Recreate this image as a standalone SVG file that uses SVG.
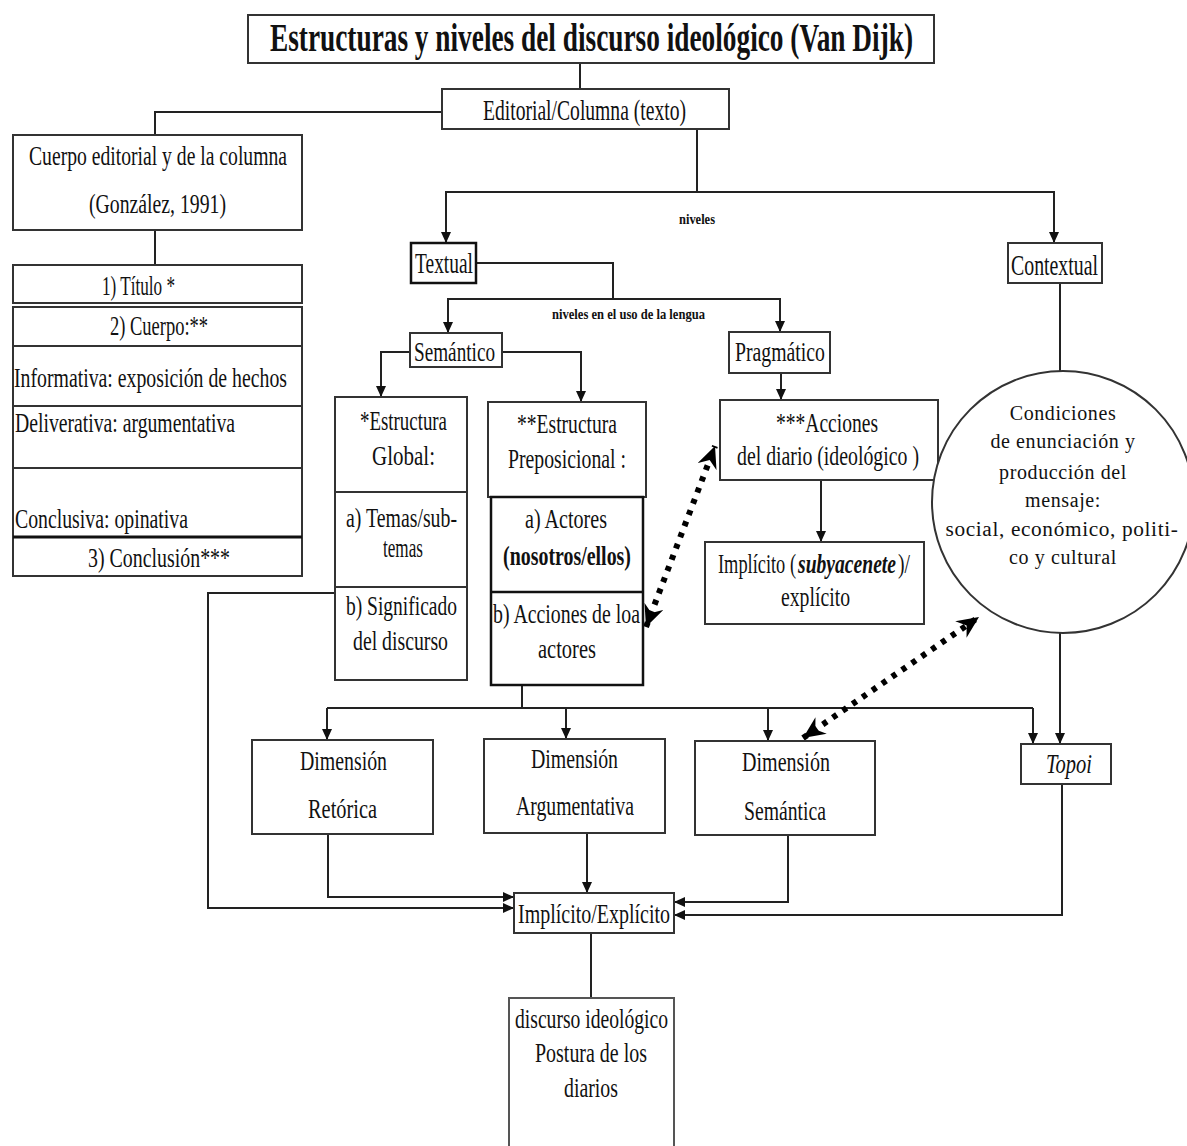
<svg xmlns="http://www.w3.org/2000/svg" width="1187" height="1146" viewBox="0 0 1187 1146">
<style>
.bx{fill:#fff;stroke:#333;stroke-width:2}
.dv{stroke:#333;stroke-width:2;fill:none}
.t{font-family:"Liberation Serif","Times New Roman",serif;font-size:27px;fill:#111}
.s{font-family:"Liberation Serif","Times New Roman",serif;font-size:15px;font-weight:bold;fill:#111}
.c{font-family:"Liberation Serif","Times New Roman",serif;font-size:20px;fill:#111;text-anchor:middle;letter-spacing:0.6px}
.ln{stroke:#222;stroke-width:2;fill:none}
.ar{marker-end:url(#ah)}
.dot{stroke:#000;stroke-width:6;stroke-dasharray:5 7;fill:none;marker-start:url(#bh);marker-end:url(#bh)}
</style>
<defs>
<marker id="ah" markerUnits="userSpaceOnUse" markerWidth="12" markerHeight="10" refX="11" refY="5" orient="auto"><path d="M0,0 L11,5 L0,10 z" fill="#111"/></marker>
<marker id="bh" markerUnits="userSpaceOnUse" markerWidth="24" markerHeight="20" refX="22" refY="10" orient="auto-start-reverse"><path d="M0,0 L22,10 L0,20 L7,10 z" fill="#000"/></marker>
</defs>
<rect width="1187" height="1146" fill="#fff"/>

<g id="connectors">
<path class="ln" d="M580,63 V89"/>
<path class="ln" d="M442,112 H155 V135"/>
<path class="ln" d="M155,213 V265"/>
<path class="ln ar" d="M697,129 V192 H446 V243"/>
<path class="ln ar" d="M697,192 H1054 V243"/>
<path class="ln" d="M476,263 H613 V299"/>
<path class="ln ar" d="M613,299 H448 V333"/>
<path class="ln ar" d="M613,299 H780 V332"/>
<path class="ln ar" d="M410,352 H381 V397"/>
<path class="ln ar" d="M502,352 H581 V402"/>
<path class="ln ar" d="M781,373 V400"/>
<path class="ln ar" d="M821,480 V542"/>
<path class="ln" d="M1060,283 V372"/>
<path class="ln ar" d="M1060,632 V744"/>
<path class="ln" d="M522,685 V708"/>
<path class="ln" d="M327,708 H1033"/>
<path class="ln ar" d="M327,708 V740"/>
<path class="ln ar" d="M566,708 V739"/>
<path class="ln ar" d="M768,708 V741"/>
<path class="ln ar" d="M1033,708 V744"/>
<path class="ln ar" d="M335,593 H208 V908 H514"/>
<path class="ln ar" d="M328,834 V897 H514"/>
<path class="ln ar" d="M587,833 V893"/>
<path class="ln ar" d="M788,835 V902 H674"/>
<path class="ln ar" d="M1062,784 V915 H674"/>
<path class="ln" d="M591,933 V998"/>
<path class="dot" d="M646,627 L715,446"/>
<path class="dot" d="M803,738 L979,617"/>
<text class="s" x="679" y="224" textLength="36" lengthAdjust="spacingAndGlyphs">niveles</text>
<text class="s" x="552" y="319" textLength="153" lengthAdjust="spacingAndGlyphs">niveles en el uso de la lengua</text>
</g>

<g id="title">
<rect class="bx" x="248" y="15" width="686" height="48"/>
<text class="t" x="270" y="51" style="font-size:40px;font-weight:bold" textLength="643" lengthAdjust="spacingAndGlyphs">Estructuras y niveles del discurso ideológico (Van Dijk)</text>
</g>

<g id="editorial">
<rect class="bx" x="442" y="89" width="287" height="40"/>
<text class="t" x="483" y="120" style="font-size:30px" textLength="203" lengthAdjust="spacingAndGlyphs">Editorial/Columna (texto)</text>
</g>

<g id="cuerpo-editorial">
<rect class="bx" x="13" y="135" width="289" height="95"/>
<text class="t" x="29" y="165" textLength="258" lengthAdjust="spacingAndGlyphs">Cuerpo editorial y de la columna</text>
<text class="t" x="89" y="213" textLength="137" lengthAdjust="spacingAndGlyphs">(González, 1991)</text>
</g>

<g id="titulo">
<rect class="bx" x="13" y="265" width="289" height="38"/>
<text class="t" x="102" y="295" textLength="73" lengthAdjust="spacingAndGlyphs">1) Título *</text>
</g>

<g id="cuerpo">
<rect class="bx" x="13" y="307" width="289" height="269"/>
<path class="dv" d="M13,346 H302 M13,406 H302 M13,468 H302"/>
<path class="dv" d="M13,537 H302" style="stroke-width:3;stroke:#111"/>
<text class="t" x="110" y="335" textLength="98" lengthAdjust="spacingAndGlyphs">2) Cuerpo:**</text>
<text class="t" x="14" y="387" textLength="273" lengthAdjust="spacingAndGlyphs">Informativa: exposición de hechos</text>
<text class="t" x="15" y="432" textLength="220" lengthAdjust="spacingAndGlyphs">Deliverativa: argumentativa</text>
<text class="t" x="15" y="528" textLength="173" lengthAdjust="spacingAndGlyphs">Conclusiva: opinativa</text>
<text class="t" x="88" y="567" textLength="142" lengthAdjust="spacingAndGlyphs">3) Conclusión***</text>
</g>

<g id="textual">
<rect class="bx" x="411" y="243" width="65" height="40" style="stroke:#111;stroke-width:2.5"/>
<text class="t" x="415" y="273" style="font-size:29px" textLength="58" lengthAdjust="spacingAndGlyphs">Textual</text>
</g>

<g id="contextual">
<rect class="bx" x="1008" y="243" width="94" height="40"/>
<text class="t" x="1011" y="275" style="font-size:29px" textLength="87" lengthAdjust="spacingAndGlyphs">Contextual</text>
</g>

<g id="semantico">
<rect class="bx" x="410" y="333" width="92" height="34"/>
<text class="t" x="414" y="361" textLength="81" lengthAdjust="spacingAndGlyphs">Semántico</text>
</g>

<g id="pragmatico">
<rect class="bx" x="729" y="332" width="101" height="41"/>
<text class="t" x="735" y="361" textLength="90" lengthAdjust="spacingAndGlyphs">Pragmático</text>
</g>

<g id="estructura-global">
<rect class="bx" x="335" y="397" width="132" height="283"/>
<path class="dv" d="M335,492 H467 M335,587 H467"/>
<text class="t" x="360" y="430" textLength="87" lengthAdjust="spacingAndGlyphs">*Estructura</text>
<text class="t" x="372" y="465" textLength="63" lengthAdjust="spacingAndGlyphs">Global:</text>
<text class="t" x="346" y="527" textLength="111" lengthAdjust="spacingAndGlyphs">a) Temas/sub-</text>
<text class="t" x="383" y="557" textLength="40" lengthAdjust="spacingAndGlyphs">temas</text>
<text class="t" x="346" y="615" textLength="111" lengthAdjust="spacingAndGlyphs">b) Significado</text>
<text class="t" x="353" y="650" textLength="95" lengthAdjust="spacingAndGlyphs">del discurso</text>
</g>

<g id="estructura-preposicional">
<rect class="bx" x="488" y="402" width="158" height="95"/>
<rect class="bx" x="491" y="497" width="152" height="188" style="stroke:#111;stroke-width:2.5"/>
<path class="dv" d="M491,592 H643" style="stroke:#111;stroke-width:2.5"/>
<text class="t" x="517" y="433" textLength="100" lengthAdjust="spacingAndGlyphs">**Estructura</text>
<text class="t" x="508" y="468" textLength="118" lengthAdjust="spacingAndGlyphs">Preposicional :</text>
<text class="t" x="525" y="528" textLength="82" lengthAdjust="spacingAndGlyphs">a) Actores</text>
<text class="t" x="503" y="565" style="font-weight:bold" textLength="128" lengthAdjust="spacingAndGlyphs">(nosotros/ellos)</text>
<text class="t" x="493" y="623" textLength="147" lengthAdjust="spacingAndGlyphs">b) Acciones de loa</text>
<text class="t" x="538" y="658" textLength="58" lengthAdjust="spacingAndGlyphs">actores</text>
</g>

<g id="acciones-diario">
<rect class="bx" x="720" y="400" width="218" height="80"/>
<text class="t" x="776" y="432" textLength="102" lengthAdjust="spacingAndGlyphs">***Acciones</text>
<text class="t" x="737" y="465" textLength="182" lengthAdjust="spacingAndGlyphs">del diario (ideológico )</text>
</g>

<g id="implicito-subyacente">
<rect class="bx" x="705" y="542" width="219" height="82"/>
<text class="t" x="718" y="573" textLength="78" lengthAdjust="spacingAndGlyphs">Implícito (</text>
<text class="t" x="798" y="573" style="font-weight:bold;font-style:italic" textLength="98" lengthAdjust="spacingAndGlyphs">subyacenete</text>
<text class="t" x="898" y="573" textLength="12" lengthAdjust="spacingAndGlyphs">)/</text>
<text class="t" x="781" y="606" textLength="69" lengthAdjust="spacingAndGlyphs">explícito</text>
</g>

<g id="condiciones">
<circle cx="1063" cy="502" r="131" fill="#fff" stroke="#333" stroke-width="2"/>
<text class="c" x="1063" y="420">Condiciones</text>
<text class="c" x="1063" y="448">de enunciación y</text>
<text class="c" x="1063" y="479">producción del</text>
<text class="c" x="1063" y="507">mensaje:</text>
<text class="c" x="1062" y="536" textLength="233" lengthAdjust="spacingAndGlyphs">social, económico, politi-</text>
<text class="c" x="1063" y="564">co y cultural</text>
</g>

<g id="dimension-retorica">
<rect class="bx" x="252" y="740" width="181" height="94"/>
<text class="t" x="300" y="770" textLength="87" lengthAdjust="spacingAndGlyphs">Dimensión</text>
<text class="t" x="308" y="818" textLength="69" lengthAdjust="spacingAndGlyphs">Retórica</text>
</g>

<g id="dimension-argumentativa">
<rect class="bx" x="484" y="739" width="181" height="94"/>
<text class="t" x="531" y="768" textLength="87" lengthAdjust="spacingAndGlyphs">Dimensión</text>
<text class="t" x="516" y="815" textLength="118" lengthAdjust="spacingAndGlyphs">Argumentativa</text>
</g>

<g id="dimension-semantica">
<rect class="bx" x="695" y="741" width="180" height="94"/>
<text class="t" x="742" y="771" textLength="88" lengthAdjust="spacingAndGlyphs">Dimensión</text>
<text class="t" x="744" y="820" textLength="82" lengthAdjust="spacingAndGlyphs">Semántica</text>
</g>

<g id="topoi">
<rect class="bx" x="1021" y="744" width="90" height="40"/>
<text class="t" x="1046" y="773" style="font-style:italic" textLength="46" lengthAdjust="spacingAndGlyphs">Topoi</text>
</g>

<g id="implicito-explicito">
<rect class="bx" x="514" y="893" width="160" height="40"/>
<text class="t" x="518" y="923" textLength="152" lengthAdjust="spacingAndGlyphs">Implícito/Explícito</text>
</g>

<g id="discurso">
<path d="M509,1150 V998 H674 V1150" fill="#fff" stroke="#555" stroke-width="2"/>
<text class="t" x="515" y="1028" textLength="153" lengthAdjust="spacingAndGlyphs">discurso ideológico</text>
<text class="t" x="535" y="1062" textLength="112" lengthAdjust="spacingAndGlyphs">Postura de los</text>
<text class="t" x="564" y="1097" textLength="54" lengthAdjust="spacingAndGlyphs">diarios</text>
</g>
</svg>
